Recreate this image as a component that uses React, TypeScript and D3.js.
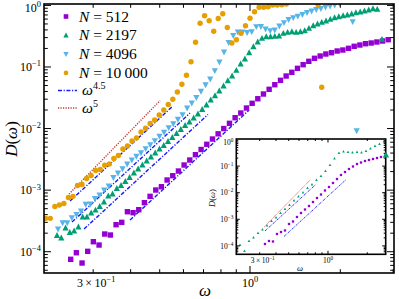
import React from "react";
import * as d3 from "d3";

// main panel data: D(omega) for four system sizes
const omega512 = [0.2525,0.2637,0.2755,0.2877,0.3005,0.3139,0.3279,0.3424,0.3577,0.3736,0.3902,0.4076,0.4257,0.4446,0.4644,0.4851,0.5066,0.5292,0.5527,0.5773,0.603,0.6298,0.6578,0.6871,0.7177,0.7496,0.7829,0.8177,0.8541,0.892,0.9317,0.9732,1.0165,1.0617,1.1089,1.1582,1.2097,1.2635,1.3197,1.3784,1.4397,1.5038,1.5706,1.6406,1.7135,1.7897,1.8693,1.9525,2.0393,2.13,2.2247,2.3237,2.4271,2.5351,2.6478,2.7656,2.8887];
const d512 = [7.52e-5,9.62e-5,6.55e-5,1.014e-4,1.453e-4,1.284e-4,1.937e-4,1.866e-4,2.744e-4,3.0e-4,4.46e-4,4.3e-4,4.81e-4,6.25e-4,7.93e-4,1.004e-3,1.136e-3,1.46e-3,1.714e-3,2.043e-3,2.557e-3,3.083e-3,3.76e-3,4.57e-3,5.55e-3,6.76e-3,8.21e-3,1.0e-2,1.216e-2,1.5e-2,1.788e-2,2.156e-2,2.57e-2,3.05e-2,3.64e-2,4.34e-2,5.15e-2,6.07e-2,7.13e-2,8.19e-2,9.51e-2,0.1089,0.1236,0.1383,0.1507,0.1624,0.1705,0.1817,0.1886,0.201,0.2166,0.2274,0.2387,0.2451,0.2545,0.2641,0.2773];

const omega2197 = [0.2273,0.2349,0.2427,0.2508,0.2592,0.2679,0.2768,0.286,0.2955,0.3054,0.3155,0.326,0.3369,0.3481,0.3597,0.3717,0.384,0.3969,0.4101,0.4237,0.4378,0.4524,0.4675,0.4831,0.4992,0.5158,0.533,0.5508,0.5691,0.5881,0.6076,0.6279,0.6489,0.6705,0.6928,0.7159,0.7398,0.7644,0.7899,0.8162,0.8434,0.8716,0.9006,0.9305,0.9616,0.9936,1.0266,1.061,1.0962,1.1328,1.1707,1.2094,1.2497,1.2914,1.3344,1.379,1.4248,1.4723,1.5218,1.5722,1.6245,1.6788,1.7347,1.7922,1.8522,1.9139,1.9777,2.0437,2.1115,2.1817,2.2547,2.3297,2.4072,2.4876,2.5704,2.6558,2.754,2.84];
const d2197 = [1.831e-4,1.668e-4,2.424e-4,2.049e-4,2.167e-4,2.516e-4,3.66e-4,3.66e-4,4.25e-4,4.75e-4,5.42e-4,6.41e-4,8.02e-4,8.65e-4,1.062e-3,1.188e-3,1.38e-3,1.603e-3,1.896e-3,2.203e-3,2.557e-3,2.971e-3,3.45e-3,4.01e-3,4.65e-3,5.3e-3,6.16e-3,7.15e-3,8.31e-3,9.65e-3,1.12e-2,1.277e-2,1.483e-2,1.723e-2,2.038e-2,2.411e-2,2.908e-2,3.415e-2,4.07e-2,4.91e-2,5.98e-2,7.13e-2,8.83e-2,0.1117,0.1347,0.1705,0.2134,0.2545,0.2922,0.3102,0.3102,0.3149,0.3184,0.3523,0.3657,0.374,0.3657,0.374,0.3882,0.4247,0.4682,0.4988,0.5314,0.5578,0.5945,0.6312,0.6553,0.6803,0.6984,0.725,0.761,0.7812,0.811,0.842,0.884,0.8646,0.2815,3.72e-3];

const omega4096 = [0.2291,0.2373,0.2459,0.2547,0.2639,0.2734,0.2833,0.2935,0.3041,0.3151,0.3264,0.3382,0.3504,0.3629,0.376,0.3896,0.4036,0.4181,0.4331,0.4488,0.465,0.4817,0.4991,0.5171,0.5358,0.555,0.575,0.5958,0.6172,0.6395,0.6625,0.6864,0.711,0.7367,0.7633,0.7908,0.8192,0.8487,0.8794,0.911,0.9439,0.9779,1.0132,1.0495,1.0874,1.1266,1.1673,1.209,1.2526,1.2977,1.3446,1.3932,1.4433,1.4954,1.5492,1.6051,1.663,1.723,1.7849,1.8493,1.916,1.9856,2.199,2.268];
const d4096 = [2.335e-4,2.956e-4,2.956e-4,3.56e-4,4.02e-4,4.58e-4,5.88e-4,5.95e-4,7.31e-4,8.33e-4,1.004e-3,1.166e-3,1.603e-3,1.896e-3,2.227e-3,2.655e-3,3.083e-3,3.54e-3,4.05e-3,4.71e-3,5.46e-3,6.35e-3,7.48e-3,8.69e-3,1.032e-2,1.198e-2,1.413e-2,1.678e-2,2.156e-2,2.599e-2,3.19e-2,4.03e-2,5.15e-2,6.38e-2,8.7e-2,0.1204,0.175,0.2497,0.3245,0.3698,0.3698,0.3629,0.374,0.4508,0.4542,0.4137,0.3882,0.3985,0.4628,0.5236,0.5902,0.6312,0.6676,0.7115,0.764,0.811,0.858,0.8906,0.9419,0.9779,1.015,1.082,0.5437,9.22e-3];

const omega10000 = [0.2084,0.2159,0.2236,0.2315,0.2396,0.2481,0.2569,0.266,0.2754,0.2853,0.2953,0.3058,0.3167,0.3279,0.3396,0.3516,0.364,0.377,0.3903,0.4041,0.4185,0.4333,0.4486,0.4646,0.481,0.4981,0.5158,0.534,0.553,0.5726,0.5929,0.6139,0.6358,0.6583,0.6816,0.7058,0.7308,0.7567,0.7836,0.8113,0.8401,0.8699,0.9008,0.9327,0.9658,1.0,1.0354,1.0722,1.1101,1.1494,1.1903,1.2326,1.2763,1.3215,1.6866,1.734];
const d10000 = [3.48e-4,3.48e-4,5.42e-4,5.73e-4,6.06e-4,7.59e-4,7.93e-4,1.188e-3,1.233e-3,1.544e-3,1.727e-3,2.082e-3,2.161e-3,2.529e-3,2.655e-3,3.26e-3,3.65e-3,4.65e-3,5.21e-3,6.28e-3,7.02e-3,8.79e-3,1.009e-2,1.207e-2,1.376e-2,1.659e-2,2.001e-2,2.457e-2,2.985e-2,3.92e-2,5.23e-2,7.32e-2,0.1218,0.2516,0.5121,0.6803,0.5643,0.3797,0.6127,0.733,0.4377,0.2451,0.2763,0.3523,0.4664,0.6173,0.7902,0.9314,0.9314,0.9526,1.015,1.015,1.026,1.054,1.026,4.68e-2];

// power-law guides: [omega start, omega end, D at start, exponent]
const guides = [
  { w0: 0.2512, w1: 0.5495, d0: 6.65e-4, p: 4.5 },
  { w0: 0.255, w1: 0.631, d0: 3.03e-4, p: 4.5 },
  { w0: 0.2797, w1: 0.7244, d0: 2.335e-4, p: 4.5 },
  { w0: 0.3981, w1: 0.9923, d0: 3.27e-4, p: 4.5 },
  { w0: 0.2493, w1: 0.5012, d0: 8.65e-4, p: 5 },
];

// inset data
const insetW2197 = [0.212,0.2294,0.2484,0.2689,0.2911,0.3151,0.3411,0.3693,0.3999,0.4328,0.4686,0.5073,0.5491,0.5943,0.6435,0.6966,0.7541,0.8164,0.8839,0.957,1.0359,1.1214,1.214,1.3143,1.4228,1.5403,1.6677,1.805,1.9543,2.1154,2.2903,2.4796,2.6844];
const insetD2197 = [1.081e-4,6.43e-5,1.528e-4,2.07e-4,3.05e-4,4.14e-4,5.85e-4,8.63e-4,1.169e-3,1.726e-3,2.44e-3,3.45e-3,5.09e-3,7.2e-3,1.018e-2,1.503e-2,2.033e-2,3.0e-2,4.25e-2,6.55e-2,0.11,0.1931,0.3108,0.3538,0.3388,0.3245,0.3388,0.3245,0.3694,0.4588,0.5695,0.6774,0.841];
const insetW512 = [0.3293,0.3533,0.3792,0.407,0.4366,0.4686,0.5029,0.5395,0.5789,0.6214,0.6667,0.7154,0.7677,0.8237,0.8839,0.9485,1.0178,1.0922,1.1719,1.2575,1.3496,1.4479,1.5537,1.6677,1.7893,1.92,2.0603,2.2111,2.3726,2.5459,2.732];
const insetD512 = [1.178e-4,1.528e-4,1.462e-4,2.8e-4,3.33e-4,3.8e-4,6.66e-4,8.26e-4,1.22e-3,1.726e-3,2.335e-3,3.16e-3,4.47e-3,6.32e-3,8.55e-3,1.21e-2,1.637e-2,2.317e-2,3.27e-2,4.63e-2,6.0e-2,7.78e-2,9.66e-2,0.1199,0.1366,0.1555,0.1696,0.1849,0.2016,0.2198,0.2397];
const insetGuides = [
  { w0: 0.3265, w1: 0.7345, d0: 5.36e-4, p: 5 },
  { w0: 0.3293, w1: 0.8092, d0: 3.63e-4, p: 4.5 },
  { w0: 0.4603, w1: 1.3735, d0: 2.26e-4, p: 4.5 },
];

const sizes = ["512", "2197", "4096", "10\u2009000"];

const PURPLE = "#9400d3";
const GREEN = "#009e73";
const CYAN = "#56b4e9";
const ORANGE = "#e69f00";
const BLUE = "#1a1aff";
const RED = "#c0392b";
const FONT = "'Liberation Serif', 'DejaVu Serif', serif";

type Shape = "square" | "up" | "down" | "circle";

function Marker({ shape, x, y, s, color }: { shape: Shape; x: number; y: number; s: number; color: string }) {
  if (shape === "square") return <rect x={x - s / 2} y={y - s / 2} width={s} height={s} fill={color} />;
  if (shape === "circle") return <circle cx={x} cy={y} r={s / 2} fill={color} />;
  const h = s * 0.5;
  const pts =
    shape === "up"
      ? `${x},${y - h * 1.1} ${x - h},${y + h * 0.8} ${x + h},${y + h * 0.8}`
      : `${x},${y + h * 1.1} ${x - h},${y - h * 0.8} ${x + h},${y - h * 0.8}`;
  return <polygon points={pts} fill={color} />;
}

function Pow({ x, y, base, exp, fs, anchor }: any) {
  return (
    <text x={x} y={y} fontSize={fs} textAnchor={anchor} fontFamily={FONT}>
      {base}
      <tspan dy={-fs * 0.4} fontSize={fs * 0.7}>{exp}</tspan>
    </text>
  );
}

function Axes({ x, y, major, minor, fs, xLabels }: any) {
  const [x0, x1] = x.range();
  const [y0, y1] = y.range();
  const xt = x.ticks();
  const yt = y.ticks();
  const isMajor = (v: number) => Math.abs(Math.log10(v) - Math.round(Math.log10(v))) < 1e-6;
  return (
    <g>
      {xt.map((v: number, i: number) => {
        const px = x(v);
        if (px <= x0 + 0.5 || px >= x1 - 0.5) return null;
        const L = isMajor(v) ? major : minor;
        return (
          <g key={"x" + i} stroke="#000" strokeWidth={1}>
            <line x1={px} x2={px} y1={y0} y2={y0 - L} />
            <line x1={px} x2={px} y1={y1} y2={y1 + L} />
          </g>
        );
      })}
      {yt.map((v: number, i: number) => {
        const py = y(v);
        if (py >= y0 - 0.5 || py <= y1 + 0.5) return null;
        const L = isMajor(v) ? major : minor;
        return (
          <g key={"y" + i} stroke="#000" strokeWidth={1}>
            <line x1={x0} x2={x0 + L} y1={py} y2={py} />
            <line x1={x1} x2={x1 - L} y1={py} y2={py} />
          </g>
        );
      })}
      {yt.filter(isMajor).map((v: number, i: number) => {
        const py = y(v);
        if (py > y0 + 1 || py < y1 - 3) return null;
        const e = Math.round(Math.log10(v));
        const shift = py - y1 < 6 ? 2.5 : 0;
        return <Pow key={"yl" + i} x={x0 - 3} y={py + fs * 0.35 + shift} base="10" exp={e === 0 ? "0" : "\u2212" + -e} fs={fs} anchor="end" />;
      })}
      {xLabels.map((v: number, i: number) => {
        const e = Math.floor(Math.log10(v) + 1e-9);
        const m = Math.round(v / Math.pow(10, e));
        return (
          <Pow key={"xl" + i} x={x(v) + (m === 1 ? 0 : 3)} y={y0 + fs * 1.15}
            base={m === 1 ? "10" : `${m}\u2009\u00d7\u200910`} exp={e === 0 ? "0" : "\u2212" + -e} fs={fs} anchor="middle" />
        );
      })}
      <rect x={x0} y={y1} width={x1 - x0} height={y0 - y1} fill="none" stroke="#000" strokeWidth={1.6} />
    </g>
  );
}

export default function App() {
  const x = d3.scaleLog().domain([0.2057, 3.02]).range([44, 394]);
  const y = d3.scaleLog().domain([4.51e-5, 1.054]).range([273, 4]);
  const xi = d3.scaleLog().domain([0.1986, 2.766]).range([236.3, 385.7]);
  const yi = d3.scaleLog().domain([4.83e-5, 1.044]).range([254.3, 139]);

  const series = [
    { w: omega512, d: d512, color: PURPLE, shape: "square" as Shape, s: 5.4 },
    { w: omega2197, d: d2197, color: GREEN, shape: "up" as Shape, s: 6.2 },
    { w: omega4096, d: d4096, color: CYAN, shape: "down" as Shape, s: 6.2 },
    { w: omega10000, d: d10000, color: ORANGE, shape: "circle" as Shape, s: 5.4 },
  ];

  const guidePath = (g: any, xs: any, ys: any) => {
    const line = d3.line<number>().x((w) => xs(w)).y((w) => ys(g.d0 * Math.pow(w / g.w0, g.p)));
    return line([g.w0, g.w1]) || "";
  };

  return (
    <svg width={399} height={299} style={{ display: "block", position: "absolute", left: 0, top: 0 }} fontFamily={FONT}>
      <defs>
        <clipPath id="mainClip"><rect x={44} y={4} width={350} height={269} /></clipPath>
        <clipPath id="insetClip"><rect x={236.3} y={139} width={149.4} height={115.3} /></clipPath>
      </defs>
      <rect width={399} height={299} fill="#fff" />

      <g clipPath="url(#mainClip)">
        {guides.map((g, i) => (
          <path key={i} d={guidePath(g, x, y)} fill="none"
            stroke={g.p === 5 ? RED : BLUE} strokeWidth={1.4}
            strokeDasharray={g.p === 5 ? "1.2,1.3" : "4,1.6,1.2,1.6"} />
        ))}
      </g>

      {/* inset */}
      <g>
        <rect x={236.3} y={139} width={149.4} height={115.3} fill="#fff" />
        <g clipPath="url(#insetClip)">
          {insetGuides.map((g, i) => (
            <path key={i} d={guidePath(g, xi, yi)} fill="none"
              stroke={g.p === 5 ? RED : BLUE} strokeWidth={0.9}
              strokeDasharray={g.p === 5 ? "0.8,0.9" : "2.5,1,0.8,1"} />
          ))}
          {insetW512.map((w, i) => (
            <Marker key={"p" + i} shape="square" x={xi(w)} y={yi(insetD512[i])} s={2.3} color={PURPLE} />
          ))}
          {insetW2197.map((w, i) => (
            <Marker key={"g" + i} shape="up" x={xi(w)} y={yi(insetD2197[i])} s={2.6} color={GREEN} />
          ))}
        </g>
        <Axes x={xi} y={yi} major={3.5} minor={2} fs={7.5} xLabels={[0.3, 1]} />
        <text x={300} y={271} fontSize={8.5} fontStyle="italic" textAnchor="middle">ω</text>
        <text transform="translate(215,198) rotate(-90)" fontSize={8.5} textAnchor="middle">
          <tspan fontStyle="italic">D</tspan>(<tspan fontStyle="italic">ω</tspan>)
        </text>
      </g>

      <g clipPath="url(#mainClip)">
        {series.map((sr, k) =>
          sr.w.map((w, i) => (
            <Marker key={k + "-" + i} shape={sr.shape} x={x(w)} y={y(sr.d[i])} s={sr.s} color={sr.color} />
          ))
        )}
      </g>

      <Axes x={x} y={y} major={7} minor={3.8} fs={12} xLabels={[0.3, 1]} />

      {/* legend */}
      {series.map((sr, k) => (
        <g key={"lg" + k}>
          <Marker shape={sr.shape} x={66} y={16.5 + k * 18.8} s={sr.s * 0.85} color={sr.color} />
          <text x={79} y={21.5 + k * 18.8} fontSize={15.5}>
            <tspan fontStyle="italic">N</tspan>{" = " + sizes[k]}
          </text>
        </g>
      ))}
      <line x1={58} x2={77} y1={90.5} y2={90.5} stroke={BLUE} strokeWidth={1.4} strokeDasharray="4,1.6,1.2,1.6" />
      <line x1={58} x2={77} y1={108} y2={108} stroke={RED} strokeWidth={1.4} strokeDasharray="1.2,1.3" />
      <text x={82} y={95} fontSize={15.5}>
        <tspan fontStyle="italic">ω</tspan><tspan dy={-6} fontSize={10}>4.5</tspan>
      </text>
      <text x={82} y={112.5} fontSize={15.5}>
        <tspan fontStyle="italic">ω</tspan><tspan dy={-6} fontSize={10}>5</tspan>
      </text>

      <text x={205} y={296} fontSize={17} fontStyle="italic" textAnchor="middle">ω</text>
      <text transform="translate(17,139) rotate(-90)" fontSize={17} textAnchor="middle">
        <tspan fontStyle="italic">D</tspan>(<tspan fontStyle="italic">ω</tspan>)
      </text>
    </svg>
  );
}
